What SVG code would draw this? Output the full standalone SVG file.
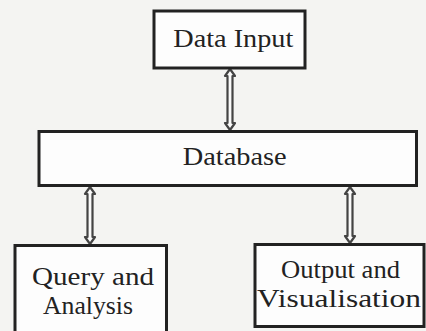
<svg xmlns="http://www.w3.org/2000/svg" width="426" height="331" viewBox="0 0 426 331">
<style>
.box{fill:#fdfdfd;stroke:#222;stroke-width:3}
.t{font-family:"Liberation Serif","Times New Roman",serif;fill:#222;text-anchor:middle}
.arr{fill:#fafafa;stroke:#444;stroke-width:2.2;stroke-linejoin:round}
</style>
<rect width="426" height="331" fill="#f4f4f2"/>
<g id="connectors">
<path class="arr" d="M230,69 L235,76 L232.5,76 L232.5,123 L235,123 L230,130 L225,123 L227.5,123 L227.5,76 L225,76 Z"/>
<path class="arr" d="M90,187 L95,194 L92.5,194 L92.5,237 L95,237 L90,244 L85,237 L87.5,237 L87.5,194 L85,194 Z"/>
<path class="arr" d="M350,187 L355,194 L352.5,194 L352.5,236 L355,236 L350,243 L345,236 L347.5,236 L347.5,194 L345,194 Z"/>
</g>
<g id="data-input">
<rect class="box" x="154" y="11" width="151" height="57"/>
<text class="t" x="233.3" y="47.3" font-size="26" textLength="120" lengthAdjust="spacingAndGlyphs">Data Input</text>
</g>
<g id="database">
<rect class="box" x="39" y="131.5" width="377.5" height="54"/>
<text class="t" x="234.7" y="165" font-size="25" textLength="104" lengthAdjust="spacingAndGlyphs">Database</text>
</g>
<g id="query-analysis">
<rect class="box" x="15" y="245.5" width="151.5" height="90"/>
<text class="t" x="93" y="285" font-size="26" textLength="122" lengthAdjust="spacingAndGlyphs">Query and</text>
<text class="t" x="88" y="314" font-size="26" textLength="90" lengthAdjust="spacingAndGlyphs">Analysis</text>
</g>
<g id="output-visualisation">
<rect class="box" x="255" y="244.5" width="169" height="82"/>
<text class="t" x="340.5" y="278" font-size="26" textLength="119" lengthAdjust="spacingAndGlyphs">Output and</text>
<text class="t" x="339" y="307" font-size="26" textLength="164" lengthAdjust="spacingAndGlyphs">Visualisation</text>
</g>
</svg>
